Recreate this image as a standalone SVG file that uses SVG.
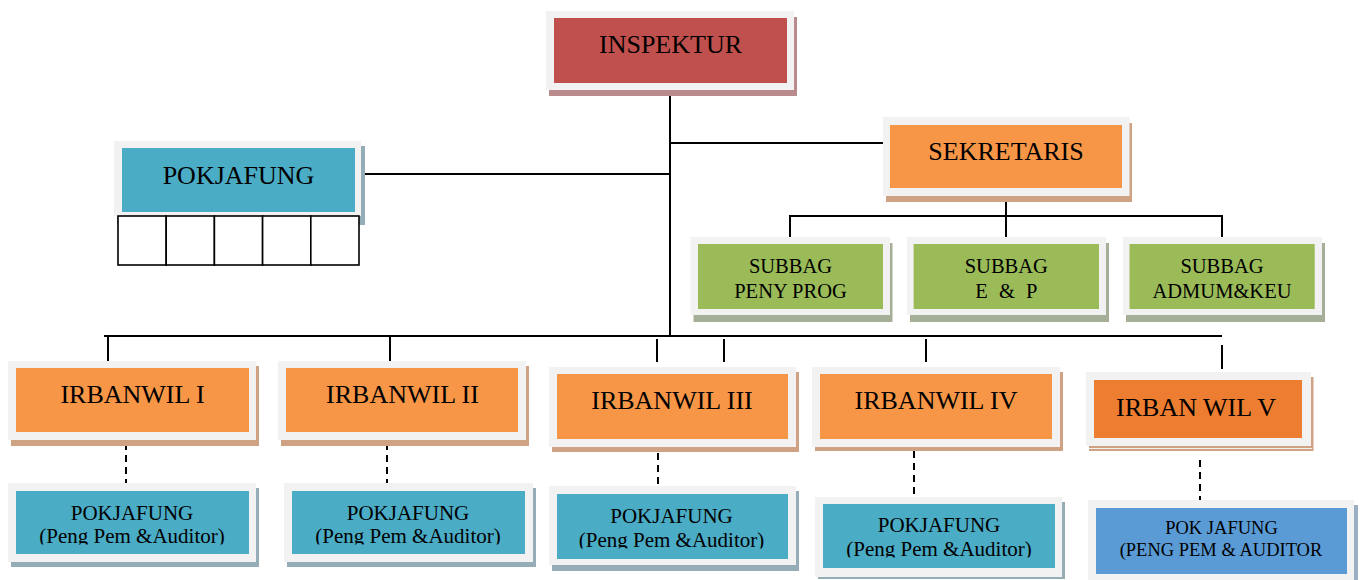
<svg xmlns="http://www.w3.org/2000/svg" width="1362" height="580" viewBox="0 0 1362 580">
<style>
.frame{fill:#F2F2F2}
.sh-red{fill:#B98B8C}
.sh-org{fill:#CFA283}
.sh-teal{fill:#94ADB7}
.sh-grn{fill:#A5AE97}
.sh-blue{fill:#9AB0C2}
.red{fill:#C0504D}
.org{fill:#F79646}
.org2{fill:#ED7D31}
.teal{fill:#4BACC6}
.grn{fill:#9BBB59}
.blue{fill:#5B9BD5}
.lbl{font-family:"Liberation Serif","Times New Roman",serif;text-anchor:middle;fill:#000}
.big{font-size:26px}
.mid{font-size:21px}
.sub{font-size:20.5px}
.sm{font-size:18.5px}
.conn{stroke:#000;stroke-width:2;fill:none}
.dash{stroke-dasharray:7 5}
.cell{fill:#FFFFFF;stroke:#000;stroke-width:1.6}
</style>
<defs>
<clipPath id="c1" clipPathUnits="userSpaceOnUse"><rect x="16" y="491" width="233" height="53.5"/></clipPath>
<clipPath id="c2" clipPathUnits="userSpaceOnUse"><rect x="292" y="491" width="233" height="53.5"/></clipPath>
<clipPath id="c3" clipPathUnits="userSpaceOnUse"><rect x="557" y="494" width="231" height="54.5"/></clipPath>
<clipPath id="c4" clipPathUnits="userSpaceOnUse"><rect x="823" y="504" width="232" height="53.5"/></clipPath>
</defs>
<rect width="1362" height="580" fill="#FFFFFF"/>

<g id="connectors">
<line class="conn" x1="670" y1="88" x2="670" y2="336"/>
<line class="conn" x1="358" y1="174" x2="670" y2="174"/>
<line class="conn" x1="670" y1="143" x2="886" y2="143"/>
<line class="conn" x1="1006" y1="194" x2="1006" y2="238"/>
<polyline class="conn" points="790,238 790,216 1222,216 1222,238"/>
<line class="conn" x1="104" y1="336" x2="1222" y2="336"/>
<line class="conn" x1="108" y1="336" x2="108" y2="361"/>
<line class="conn" x1="390" y1="336" x2="390" y2="361"/>
<line class="conn" x1="657" y1="339" x2="657" y2="362"/>
<line class="conn" x1="724" y1="339" x2="724" y2="362"/>
<line class="conn" x1="926" y1="339" x2="926" y2="362"/>
<line class="conn" x1="1222" y1="345" x2="1222" y2="369"/>
<line class="conn dash" x1="126" y1="443" x2="126" y2="490"/>
<line class="conn dash" x1="387" y1="443" x2="387" y2="490"/>
<line class="conn dash" x1="658" y1="453" x2="658" y2="500"/>
<line class="conn dash" x1="914" y1="451" x2="914" y2="498"/>
<line class="conn dash" x1="1200" y1="460" x2="1200" y2="507"/>
</g>

<g id="inspektur">
<rect class="sh-red" x="549" y="17" width="248" height="79"/>
<rect class="frame" x="546" y="11" width="248" height="79"/>
<rect class="red" x="554" y="18" width="233" height="65"/>
<text class="lbl big" x="670.5" y="53">INSPEKTUR</text>
</g>

<g id="pokjafung-top">
<rect class="sh-teal" x="117" y="146" width="248" height="79"/>
<rect class="frame" x="114" y="141" width="247" height="75"/>
<rect class="teal" x="122" y="148" width="233" height="64"/>
<text class="lbl big" x="238.5" y="184">POKJAFUNG</text>
<rect class="cell" x="118" y="216" width="48.2" height="49"/>
<rect class="cell" x="166.2" y="216" width="48.2" height="49"/>
<rect class="cell" x="214.4" y="216" width="48.2" height="49"/>
<rect class="cell" x="262.6" y="216" width="48.2" height="49"/>
<rect class="cell" x="310.8" y="216" width="48.2" height="49"/>
</g>

<g id="sekretaris">
<rect class="sh-org" x="886" y="123" width="246" height="79"/>
<rect class="frame" x="883" y="117" width="246.5" height="79"/>
<rect class="org" x="890" y="125" width="232" height="63"/>
<text class="lbl big" x="1006" y="160">SEKRETARIS</text>
</g>

<g id="subbag-peny-prog">
<rect class="sh-grn" x="693.5" y="243" width="199" height="79"/>
<rect class="frame" x="690.5" y="237" width="199.5" height="78"/>
<rect class="grn" x="698" y="244" width="185" height="65"/>
<text class="lbl sub" x="790.5" y="273">SUBBAG</text>
<text class="lbl sub" x="790.5" y="298">PENY PROG</text>
</g>

<g id="subbag-e-p">
<rect class="sh-grn" x="910" y="243" width="199" height="79"/>
<rect class="frame" x="907" y="237" width="199" height="78"/>
<rect class="grn" x="913.6" y="244" width="185.4" height="65"/>
<text class="lbl sub" x="1006.3" y="273">SUBBAG</text>
<text class="lbl sub" x="1006.3" y="298" word-spacing="6">E &amp; P</text>
</g>

<g id="subbag-admum-keu">
<rect class="sh-grn" x="1126" y="243" width="199" height="79"/>
<rect class="frame" x="1123" y="237" width="199" height="78"/>
<rect class="grn" x="1129.5" y="244" width="185.2" height="65"/>
<text class="lbl sub" x="1222" y="273">SUBBAG</text>
<text class="lbl sub" x="1222" y="298">ADMUM&amp;KEU</text>
</g>

<g id="irbanwil-1">
<rect class="sh-org" x="11" y="366" width="248" height="80"/>
<rect class="frame" x="8" y="361" width="248" height="79"/>
<rect class="org" x="16" y="368" width="233" height="64"/>
<text class="lbl big" x="132.5" y="403">IRBANWIL I</text>
</g>

<g id="irbanwil-2">
<rect class="sh-org" x="281" y="366" width="248" height="80"/>
<rect class="frame" x="278" y="361" width="248" height="79"/>
<rect class="org" x="286" y="368" width="232" height="64"/>
<text class="lbl big" x="402.5" y="403">IRBANWIL II</text>
</g>

<g id="irbanwil-3">
<rect class="sh-org" x="552" y="372" width="247" height="80"/>
<rect class="frame" x="549" y="367" width="247" height="80"/>
<rect class="org" x="557" y="374" width="231" height="65"/>
<text class="lbl big" x="672" y="409">IRBANWIL III</text>
</g>

<g id="irbanwil-4">
<rect class="sh-org" x="815" y="372" width="248" height="79"/>
<rect class="frame" x="812" y="367" width="248" height="80"/>
<rect class="org" x="820" y="374" width="232" height="65"/>
<text class="lbl big" x="936" y="409">IRBANWIL IV</text>
</g>

<g id="irbanwil-5">
<rect class="sh-org" x="1089" y="377" width="224.5" height="74"/>
<rect class="frame" x="1086" y="372" width="225" height="74"/>
<line x1="1089" y1="448.5" x2="1312" y2="448.5" stroke="#F2F2F2" stroke-width="1"/>
<rect class="org2" x="1094" y="380" width="208" height="58"/>
<text class="lbl big" x="1196" y="416">IRBAN WIL V</text>
</g>

<g id="pokjafung-1">
<rect class="sh-teal" x="11" y="488" width="248" height="79"/>
<rect class="frame" x="8" y="483" width="248" height="79"/>
<rect class="teal" x="16" y="491" width="233" height="63"/>
<text class="lbl mid" x="132" y="520">POKJAFUNG</text>
<text class="lbl mid" x="132" y="543" clip-path="url(#c1)">(Peng Pem &amp;Auditor)</text>
</g>

<g id="pokjafung-2">
<rect class="sh-teal" x="287" y="488" width="249" height="79"/>
<rect class="frame" x="284" y="483" width="249" height="79"/>
<rect class="teal" x="292" y="491" width="233" height="63"/>
<text class="lbl mid" x="408" y="520">POKJAFUNG</text>
<text class="lbl mid" x="408" y="543" clip-path="url(#c2)">(Peng Pem &amp;Auditor)</text>
</g>

<g id="pokjafung-3">
<rect class="sh-teal" x="552" y="491" width="247" height="80"/>
<rect class="frame" x="549" y="486" width="247" height="79"/>
<rect class="teal" x="557" y="494" width="231" height="65"/>
<text class="lbl mid" x="671.5" y="523">POKJAFUNG</text>
<text class="lbl mid" x="671.5" y="547" clip-path="url(#c3)">(Peng Pem &amp;Auditor)</text>
</g>

<g id="pokjafung-4">
<rect class="sh-teal" x="818" y="502" width="247" height="77"/>
<rect class="frame" x="815" y="497" width="247" height="80"/>
<rect class="teal" x="823" y="504" width="232" height="64"/>
<text class="lbl mid" x="939" y="532">POKJAFUNG</text>
<text class="lbl mid" x="939" y="555.5" clip-path="url(#c4)">(Peng Pem &amp;Auditor)</text>
</g>

<g id="pokjafung-5">
<rect class="sh-blue" x="1091" y="505" width="267" height="80"/>
<rect class="frame" x="1088" y="500" width="266" height="82"/>
<rect class="blue" x="1096" y="508" width="251" height="66"/>
<text class="lbl sm" x="1221.5" y="534">POK JAFUNG</text>
<text class="lbl sm" x="1221" y="556">(PENG PEM &amp; AUDITOR</text>
</g>
</svg>
